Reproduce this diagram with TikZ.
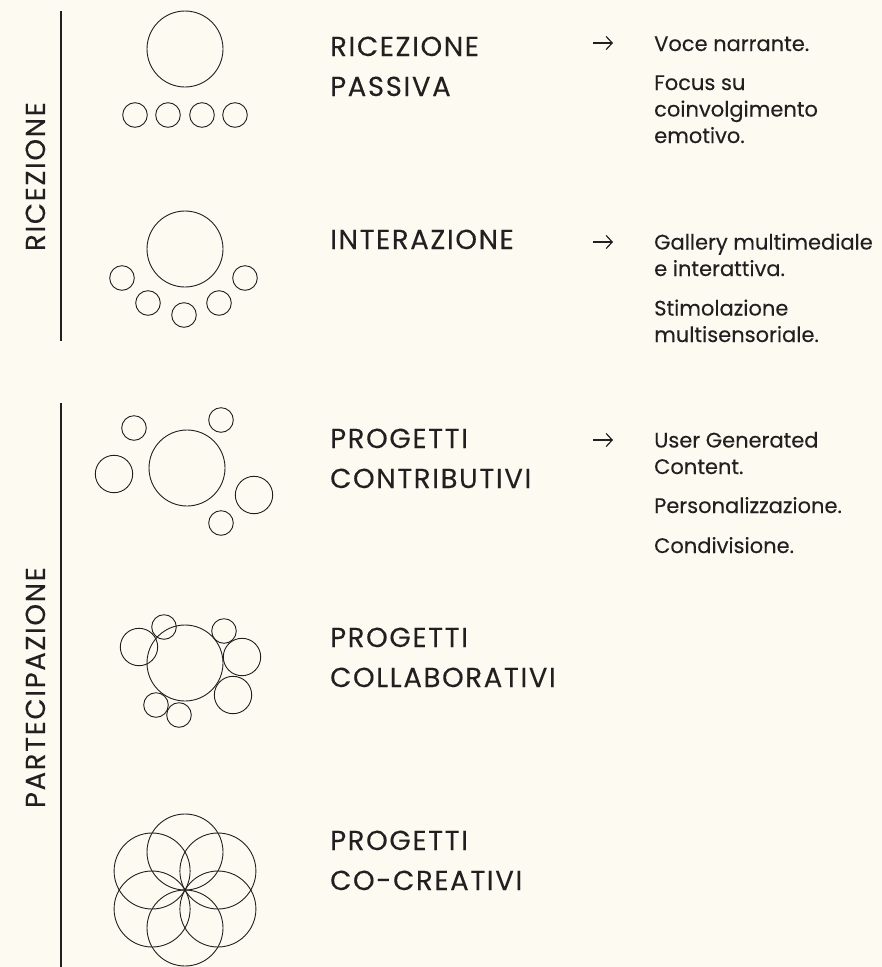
\documentclass[tikz,border=0pt]{standalone}
\usepackage{fontspec}
\setmainfont{Poppins}[FakeBold=0.15]
\newfontfamily\capsfont{Poppins}[LetterSpace=6,FakeBold=0.15]
\usepackage{tikz}
\usetikzlibrary{arrows.meta}

\definecolor{paper}{RGB}{253,250,242}
\definecolor{ink}{RGB}{35,31,32}

\tikzset{
  ring/.style={draw=ink, line width=0.9pt},
  rule/.style={draw=ink, line width=1.2pt},
  level/.style={text=ink, inner sep=0pt, anchor=base west, align=left,
    font=\capsfont\fontsize{27.5}{40}\selectfont},
  side/.style={text=ink, inner sep=0pt, anchor=base east, rotate=90,
    font=\capsfont\fontsize{27.5}{30}\selectfont},
  note/.style={text=ink, inner sep=0pt, anchor=base west, align=left,
    font=\fontsize{21}{26.5}\selectfont},
  pointer/.style={draw=ink, line width=1.2pt, -{Straight Barb[length=6pt,width=13pt]}}
}

\begin{document}
\begin{tikzpicture}[x=1pt,y=-1pt]
\fill[paper] (0,0) rectangle (882,967);
\useasboundingbox (0,0) rectangle (882,967);

% side rules and their labels
\coordinate (r1top) at (61,11);
\coordinate (r1bot) at (61,341);
\coordinate (r2top) at (61,403);
\coordinate (r2bot) at (61,967);
\draw[rule] (r1top) -- (r1bot);
\draw[rule] (r2top) -- (r2bot);
\node[side] (ric) at (45,102) {RICEZIONE};
\node[side] (part) at (45,567) {PARTECIPAZIONE};

% ricezione passiva
\draw[ring] (185,49) circle[radius=38];
\foreach \x in {135,168,202,235}
  \draw[ring] (\x,115) circle[radius=12.3];

% interazione
\draw[ring] (185,249) circle[radius=38];
\foreach \x/\y in {122/278,148/303,184/315,219/303,245/278}
  \draw[ring] (\x,\y) circle[radius=12.3];

% progetti contributivi
\draw[ring] (187,468) circle[radius=38];
\foreach \x/\y/\r in {134/428/12.3,221/420/12.3,114/474/18.7,254/495/18.7,221/523/12.3}
  \draw[ring] (\x,\y) circle[radius=\r];

% progetti collaborativi
\draw[ring] (185,663) circle[radius=38];
\foreach \x/\y/\r in {139/647/18.7,164/627/12.3,224/631/12.3,242/657/18.7,233/695/18.7,156/705/12.3,179/715/12.3}
  \draw[ring] (\x,\y) circle[radius=\r];

% progetti co-creativi
\foreach \a in {30,90,...,330}
  \draw[ring] (185,890) ++(\a:38) circle[radius=38];

% level names (base = last line)
\node[level] (passiva) at (330,96) {RICEZIONE\\PASSIVA};
\node[level] (interaz) at (330,249) {INTERAZIONE};
\node[level] (contrib) at (330,488) {PROGETTI\\CONTRIBUTIVI};
\node[level] (collab) at (330,687) {PROGETTI\\COLLABORATIVI};
\node[level] (cocrea) at (330,890) {PROGETTI\\CO-CREATIVI};

% arrows
\foreach \n/\y in {1/43,2/242,3/440}{
  \coordinate (p\n) at (593,\y);
  \coordinate (q\n) at (613,\y);
  \draw[pointer] (p\n) -- (q\n);
}

% notes (base = last line)
\node[note] (voce) at (654,51) {Voce narrante.};
\node[note] (focus) at (654,143) {Focus su\\coinvolgimento\\emotivo.};
\node[note] (gallery) at (654,276) {Gallery multimediale\\e interattiva.};
\node[note] (stimo) at (654,342) {Stimolazione\\multisensoriale.};
\node[note] (ugc) at (654,474) {User Generated\\Content.};
\node[note] (perso) at (654,513) {Personalizzazione.};
\node[note] (condi) at (654,553) {Condivisione.};

\end{tikzpicture}
\end{document}
